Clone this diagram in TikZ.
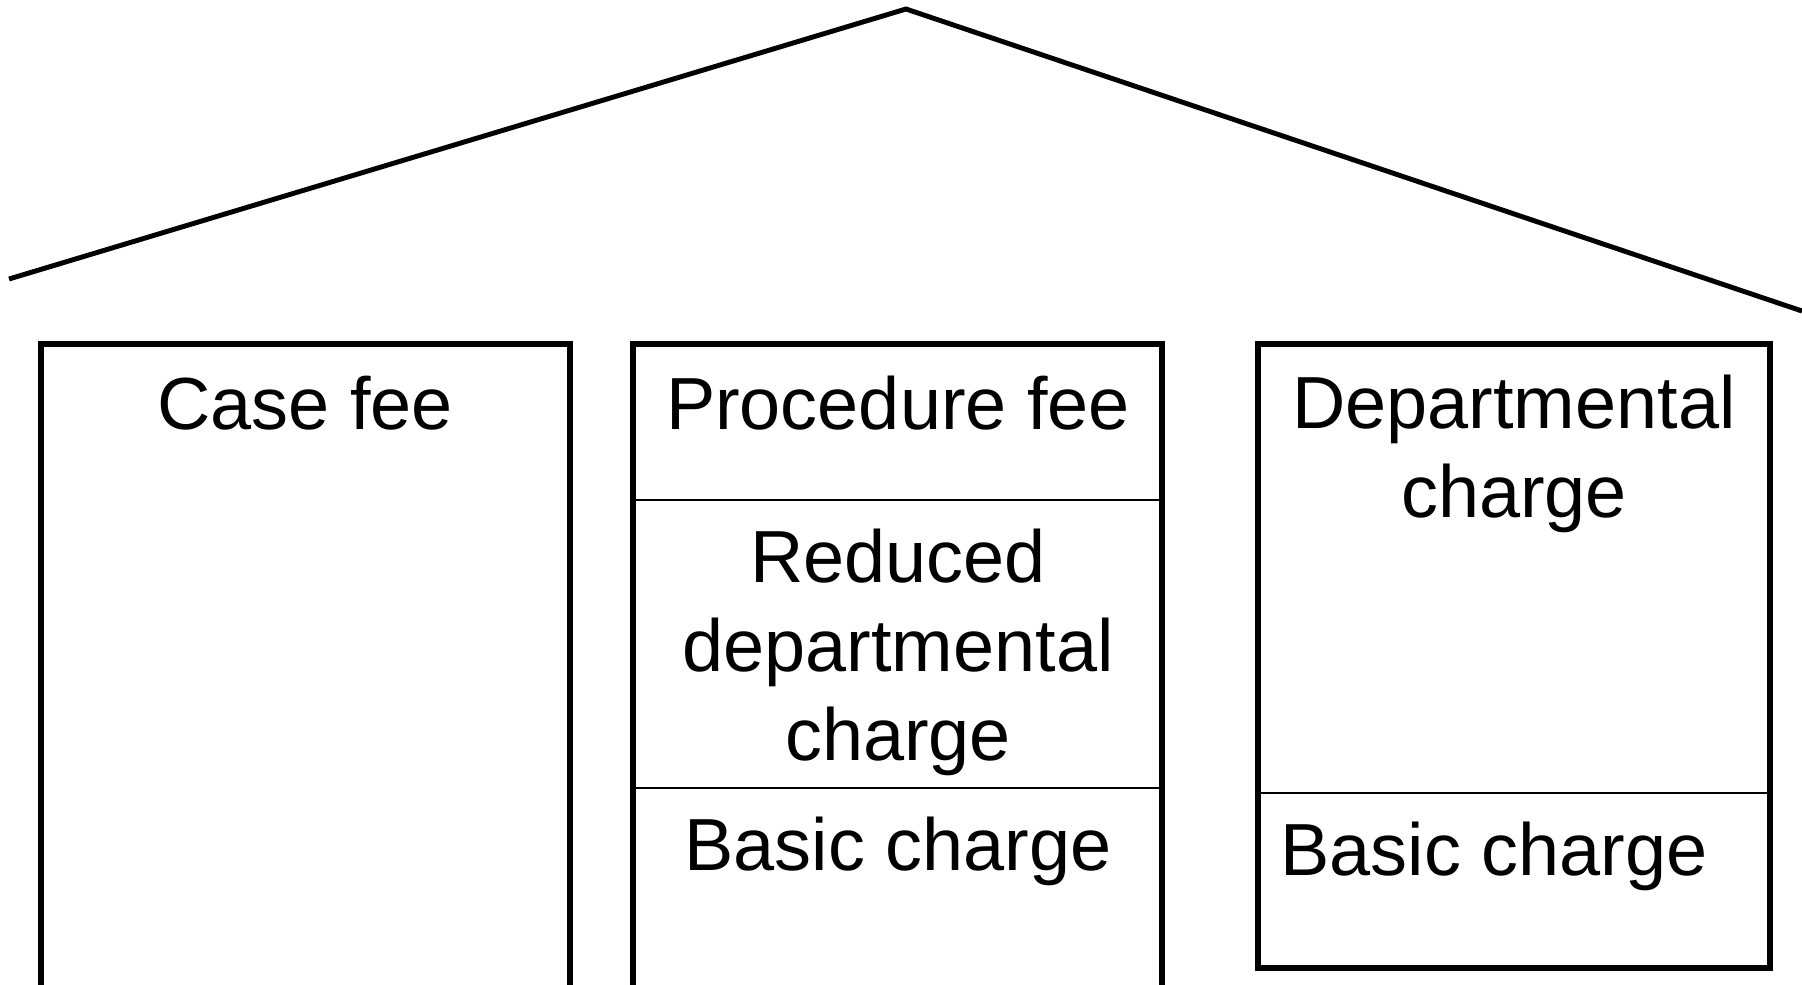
\documentclass[tikz,border=0pt]{standalone}
\usepackage{fontspec}
\setmainfont{Liberation Sans}
\usetikzlibrary{positioning}

\begin{document}
\begin{tikzpicture}[x=0.01cm,y=-0.01cm,
  wall/.style={line width=1.6pt},
  divline/.style={line width=0.7pt},
  txt/.style={anchor=base,align=center,inner sep=0pt,font=\fontsize{21}{25.3}\selectfont}]
\useasboundingbox (0,0) rectangle (1802,984);
\draw[line width=1.4pt] (9,279)--(906,9)--(1802,311);
\draw[wall] (41,990)--(41,344)--(570,344)--(570,990);
\draw[wall] (633,990)--(633,344)--(1162,344)--(1162,990);
\draw[wall] (1258,344) rectangle (1770,968);
\draw[divline] (633,500)--(1162,500) (633,788)--(1162,788);
\draw[divline] (1258,793)--(1770,793);
\node[txt] (casefee) at (305,429) {Case fee};
\node[txt] (procfee) at (898,429) {Procedure fee};
\node[txt] (reduced) at (898,760) {Reduced\\departmental\\charge};
\node[txt] (basicmid) at (898,870) {Basic charge};
\node[txt] (dept) at (1514,517) {Departmental\\charge};
\node[txt] (basicright) at (1494,875) {Basic charge};
\end{tikzpicture}
\end{document}
